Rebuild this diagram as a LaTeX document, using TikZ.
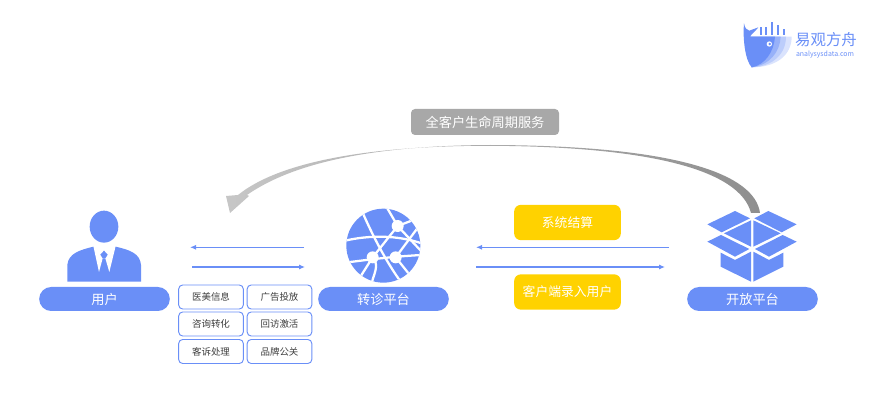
\documentclass[tikz,border=0pt]{standalone}
\usepackage{fontspec}
\setmainfont{Noto Sans CJK SC}
\usetikzlibrary{arrows.meta}
\definecolor{bl}{HTML}{6A8FF7}
\definecolor{yl}{HTML}{FFD200}
\definecolor{gy}{HTML}{A8A8A8}
\tikzset{
 pill/.style={fill=bl,rounded corners=9pt,minimum width=98pt,minimum height=18pt,text=white,inner sep=0,font=\fontsize{9.9}{11}\selectfont},
 ybox/.style={fill=yl,rounded corners=5pt,minimum width=80pt,minimum height=26.5pt,text=white,inner sep=0,font=\fontsize{9.6}{11}\selectfont},
 tag/.style={draw=bl,line width=.7pt,fill=white,rounded corners=3pt,minimum width=48.5pt,minimum height=18pt,inner sep=0,font=\fontsize{7.1}{8}\selectfont,text=black!75},
 flow/.style={draw=bl,line width=.85pt,-{Latex[length=4.5pt,width=3.8pt]}},
 glob/.style={draw=white,line width=1.7pt,line cap=round},
 ink/.style={fill=bl,draw=none}
}
\newcommand{\low}[1]{\raisebox{-2.6pt}{#1}}
\begin{document}
\begin{tikzpicture}[x=.75pt,y=-.75pt]
\useasboundingbox (0,0) rectangle (890,406);
% big curved arrow
\shade[left color=gy!65,right color=gy!85!black] (760,213) .. controls (755,175) and (680,145.5) .. (490,145)
  .. controls (390,145.5) and (300,158) .. (247,195) -- (249,196) -- (230,213) -- (226,196) -- (238,195)
  .. controls (285,157) and (390,145.5) .. (490,145.8) .. controls (650,146.5) and (740,170) .. (751,213) -- cycle;
\node[fill=gy,rounded corners=3pt,minimum width=111pt,minimum height=19.5pt,text=white,inner sep=0,font=\fontsize{9.9}{11}\selectfont] (life) at (485,122) {全客户生命周期服务};
% pills
\node[pill] (user) at (104.5,299) {用户};
\node[pill] (zz) at (383.5,299) {转诊平台};
\node[pill] (open) at (752.5,299) {开放平台};
% yellow boxes
\node[ybox] (y1) at (567.5,222.5) {系统结算};
\node[ybox] (y2) at (567.5,292) {客户端录入用户};
% small tags
\node[tag] (a1) at (211,297) {\low{医美信息}};
\node[tag] (a2) at (279.5,297) {\low{广告投放}};
\node[tag] (b1) at (211,324) {\low{咨询转化}};
\node[tag] (b2) at (279.5,324) {\low{回访激活}};
\node[tag] (c1) at (211,351.5) {\low{客诉处理}};
\node[tag] (c2) at (279.5,351.5) {\low{品牌公关}};
% flow connectors
\coordinate (l1a) at (304,247.3); \coordinate (l1b) at (190,247.3);
\coordinate (l2a) at (192,267); \coordinate (l2b) at (305,267);
\coordinate (r1a) at (669,247.3); \coordinate (r1b) at (476,247.3);
\coordinate (r2a) at (476,267); \coordinate (r2b) at (665,267);
\draw[flow] (l1a) -- (l1b);
\draw[flow] (l2a) -- (l2b);
\draw[flow] (r1a) -- (r1b);
\draw[flow] (r2a) -- (r2b);
% person icon
\begin{scope}[shift={(50,200)},x=.25pt,y=-.25pt]
 \fill[bl] (162,80) ellipse [x radius=43,y radius=48];
 \fill[bl] (52,245) -- (52,195) .. controls (55,160) and (90,150) .. (130,140) -- (197,140) .. controls (240,150) and (270,160) .. (273,195) -- (273,245) -- cycle;
 \fill[white] (130,138) -- (197,138) -- (178,216) -- (166,175) -- (158,175) -- (147,216) -- cycle;
 \fill[bl] (162,152) -- (173,164) -- (166,175) -- (158,175) -- (151,164) -- cycle;
\end{scope}
% globe icon
\begin{scope}[shift={(330,200)},x=.25pt,y=-.25pt]
 \fill[bl] (160,137) circle [radius=111];
 \begin{scope}
  \clip (160,137) circle [radius=111];
  \draw[glob] (98,38) .. controls (125,100) and (165,180) .. (212,245);
  \draw[glob] (45,122) .. controls (120,105) and (200,105) .. (275,130);
  \draw[glob] (172,25) -- (203,78) -- (275,155);
  \draw[glob] (203,78) -- (128,172) -- (90,232);
  \draw[glob] (45,188) .. controls (110,180) and (180,170) .. (275,165);
  \draw[glob] (197,172) -- (262,85);
  \draw[glob] (203,78) -- (255,58);
  \draw[glob] (197,172) -- (245,232);
  \draw[glob] (128,172) .. controls (150,195) and (130,225) .. (125,250);
 \end{scope}
 \fill[white] (203,78) circle [radius=18];
 \fill[white] (128,172) circle [radius=18];
 \fill[white] (197,172) circle [radius=18];
\end{scope}
% box icon
\begin{scope}[shift={(690,190)},x=.25pt,y=-.25pt]
 \fill[bl] (52,103) -- (135,63) -- (180,85) -- (95,127) -- cycle;
 \fill[bl] (193,85) -- (235,63) -- (320,103) -- (275,127) -- cycle;
 \fill[bl] (102,130) -- (183,91) -- (183,170) -- cycle;
 \fill[bl] (190,91) -- (272,130) -- (190,170) -- cycle;
 \fill[bl] (52,155) -- (93,135) -- (178,177) -- (135,200) -- cycle;
 \fill[bl] (195,177) -- (278,135) -- (320,155) -- (237,200) -- cycle;
 \fill[bl] (92,188) -- (135,210) -- (183,185) -- (183,275) -- (92,230) -- cycle;
 \fill[bl] (190,185) -- (237,210) -- (280,188) -- (280,230) -- (190,275) -- cycle;
\end{scope}
% logo
\begin{scope}[shift={(730,10)},x=.25pt,y=-.25pt]
 \fill[bl!25] (55,80) -- (185,80) .. controls (185,135) and (140,172) .. (65,172) -- cycle;
 \fill[bl!45] (55,80) -- (168,80) .. controls (168,130) and (130,170) .. (65,172) -- cycle;
 \fill[bl!70] (55,80) -- (152,80) .. controls (150,125) and (120,165) .. (65,172) -- cycle;
 \fill[bl] (42,40) .. controls (45,55) and (50,60) .. (58,62) -- (85,52) .. controls (75,65) and (65,72) .. (60,80) -- (135,80) .. controls (132,125) and (105,165) .. (65,172) .. controls (45,150) and (38,85) .. (42,40) -- cycle;
 \foreach \px/\py in {92/52,108/50,125/36,145/46,163/56}
  \fill[bl] (\px-3,\py) rectangle (\px+3,76);
 \fill[white] (118,102) circle [radius=8];
 \fill[bl] (119,102) circle [radius=4];
\end{scope}
\node[text=bl,inner sep=0,font=\fontsize{11.6}{12}\selectfont] (logoa) at (826,40) {易观方舟};
\node[text=bl,inner sep=0,font=\fontsize{5.2}{6}\selectfont] (logob) at (825,54.5) {analysysdata.com};
\end{tikzpicture}
\end{document}
